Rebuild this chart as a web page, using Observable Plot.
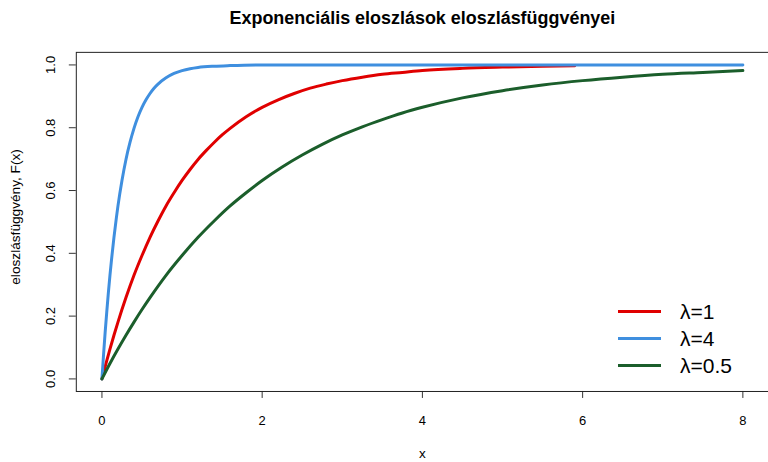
<!DOCTYPE html>
<html>
<head>
<meta charset="utf-8">
<script src="https://cdn.jsdelivr.net/npm/d3@7"></script>
<script src="https://cdn.jsdelivr.net/npm/@observablehq/plot@0.6"></script>
<style>
  html, body { margin: 0; padding: 0; background: #fff; overflow: hidden; width: 768px; height: 462px; }
  #wrap { position: relative; width: 768px; height: 462px; overflow: hidden; }
  #legend { position: absolute; left: 618px; top: 298px; font-family: "Liberation Sans", Arial, sans-serif; font-size: 21px; color: #000; }
  .row { height: 27px; display: flex; align-items: center; }
  .sw { width: 43px; height: 3px; margin-right: 19px; }
</style>
</head>
<body>
<div id="wrap"><div id="legend"></div></div>
<script>
// Series
const x1 = [0,0.05,0.1,0.15,0.2,0.3,0.4,0.5,0.6,0.7,0.8,0.9,1.0,1.1,1.2,1.3,1.4,1.5,1.6,1.8,2.0,2.2,2.4,2.6,2.8,3.0,3.25,3.5,3.75,4.0,4.5,5.0,5.5,5.9];
const y1 = [0,0.049,0.095,0.139,0.181,0.259,0.330,0.393,0.451,0.503,0.551,0.593,0.632,0.667,0.699,0.727,0.753,0.777,0.798,0.835,0.865,0.889,0.909,0.926,0.939,0.950,0.961,0.970,0.976,0.982,0.989,0.993,0.996,0.997];
const x4 = [0,0.02,0.04,0.06,0.08,0.1,0.12,0.15,0.18,0.2,0.25,0.3,0.35,0.4,0.45,0.5,0.55,0.6,0.65,0.7,0.8,0.9,1.0,1.1,1.2,1.4,1.6,2,8];
const y4 = [0,0.077,0.148,0.213,0.274,0.330,0.381,0.451,0.513,0.551,0.632,0.699,0.753,0.798,0.835,0.865,0.889,0.909,0.926,0.939,0.959,0.973,0.982,0.988,0.992,0.996,0.998,1.0,1.0];
const x05 = [0,0.1,0.2,0.3,0.4,0.5,0.6,0.8,1.0,1.2,1.4,1.6,1.8,2.0,2.25,2.5,2.75,3.0,3.25,3.5,3.75,4.0,4.5,5.0,5.5,6.0,6.5,7.0,7.5,8.0];
const y05 = [0,0.049,0.095,0.139,0.181,0.221,0.259,0.330,0.393,0.451,0.503,0.551,0.593,0.632,0.675,0.713,0.747,0.777,0.803,0.826,0.847,0.865,0.895,0.918,0.936,0.950,0.961,0.970,0.976,0.982];

const seriesNames = ["λ=1", "λ=4", "λ=0.5"];
const seriesColors = ["#e00000", "#3f8fdf", "#1b5e2b"];
const xTicks = [0, 2, 4, 6, 8];
const yTicks = [0, 0.2, 0.4, 0.6, 0.8, 1.0];
const title = "Exponenciális eloszlások eloszlásfüggvényei";
const xLabel = "x";
const yLabel = "eloszlásfüggvény, F(x)";

const toRows = (xs, ys) => xs.map((x, i) => ({x, y: ys[i]}));
const data = [toRows(x1, y1), toRows(x4, y4), toRows(x05, y05)];

const font = "'Liberation Sans', Arial, sans-serif";

const chart = Plot.plot({
  width: 770,
  height: 462,
  marginLeft: 76,
  marginRight: 0,
  marginTop: 52,
  marginBottom: 70,
  style: {fontFamily: font, fontSize: "13px", color: "#000", background: "#fff", overflow: "visible"},
  x: {domain: [-0.32, 8.32]},
  y: {domain: [-0.04, 1.04]},
  marks: [
    Plot.axisX({ticks: xTicks, tickSize: 7, tickPadding: 17, tickFormat: d => String(d), label: null, fontSize: 13, stroke: "#333"}),
    Plot.axisY({ticks: yTicks, tickSize: 7, tickPadding: 14, tickRotate: -90, tickFormat: d3.format(".1f"), label: null, fontSize: 13, stroke: "#333"}),
    Plot.frame({stroke: "#222"}),
    ...data.map((rows, i) => Plot.line(rows, {x: "x", y: "y", stroke: seriesColors[i], strokeWidth: 3, curve: "monotone-x"})),
    Plot.text([title], {frameAnchor: "top", dy: -41, text: d => d, fontWeight: "bold", fontSize: 18}),
    Plot.text([xLabel], {frameAnchor: "bottom", dy: 67, text: d => d, fontSize: 13.5}),
    Plot.text([yLabel], {frameAnchor: "left", dx: -61, dy: -5, textAnchor: "middle", text: d => d, rotate: -90, fontSize: 13.7})
  ]
});
document.getElementById("wrap").prepend(chart);

const legend = document.getElementById("legend");
seriesNames.forEach((name, i) => {
  const row = document.createElement("div");
  row.className = "row";
  const sw = document.createElement("span");
  sw.className = "sw";
  sw.style.background = seriesColors[i];
  const t = document.createElement("span");
  t.textContent = name;
  row.append(sw, t);
  legend.append(row);
});
</script>
</body>
</html>
